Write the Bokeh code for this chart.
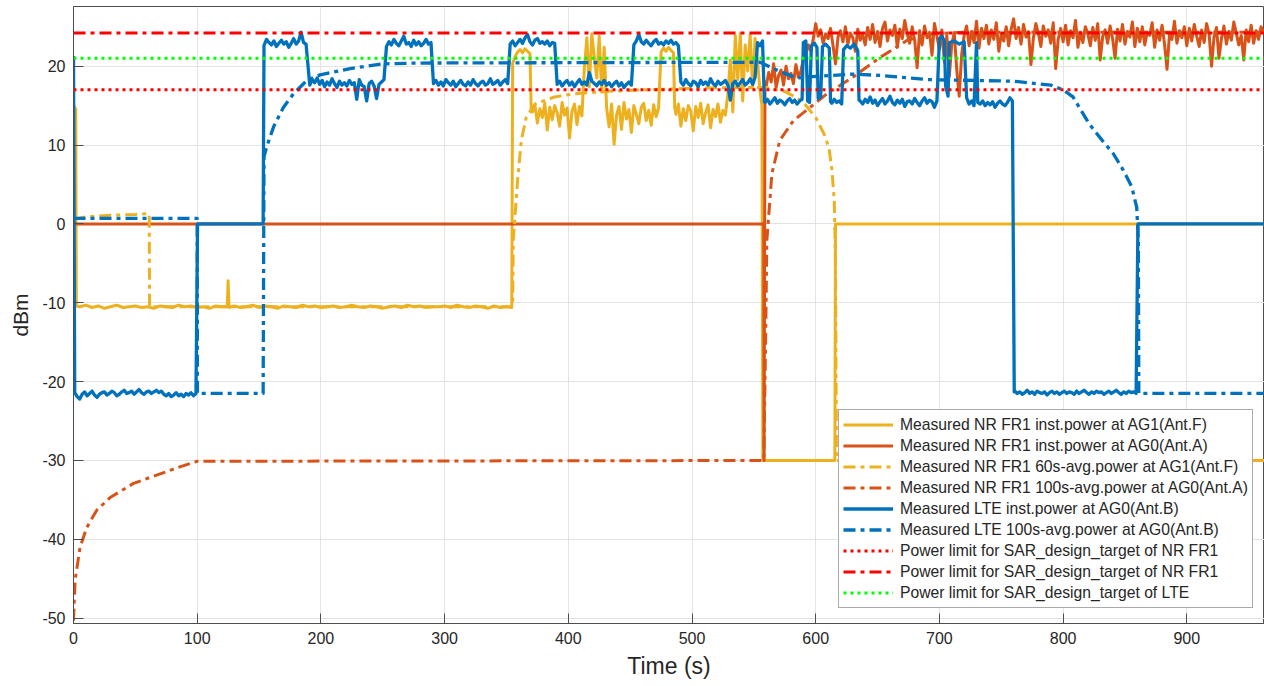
import numpy as np
from bokeh.plotting import figure
from bokeh.models import Range1d, Legend, LegendItem, FixedTicker, PrintfTickFormatter
from bokeh.embed import file_html
from bokeh.resources import INLINE

# ---------------- data ----------------
x_ticks = [0, 100, 200, 300, 400, 500, 600, 700, 800, 900]
y_ticks = [-50, -40, -30, -20, -10, 0, 10, 20]

labels = [
    "Measured NR FR1 inst.power at AG1(Ant.F)",
    "Measured NR FR1 inst.power at AG0(Ant.A)",
    "Measured NR FR1 60s-avg.power at AG1(Ant.F)",
    "Measured NR FR1 100s-avg.power at AG0(Ant.A)",
    "Measured LTE inst.power at AG0(Ant.B)",
    "Measured LTE 100s-avg.power at AG0(Ant.B)",
    "Power limit for SAR_design_target of NR FR1",
    "Power limit for SAR_design_target of NR FR1",
    "Power limit for SAR_design_target of LTE",
]

limit_nr_low = 17.0
limit_nr_high = 24.2
limit_lte = 21.0
t_end = 963


def seg(t0, step, vals):
    return [(t0 + step * i, v) for i, v in enumerate(vals)]


# NR FR1 instantaneous power at AG1 (yellow)
nr_ag1_flat_a = [-10.5, -10.3, -10.6, -10.4, -10.7, -10.5, -10.3, -10.6, -10.5, -10.4, -10.6, -10.5,
                 -10.7, -10.4, -10.5, -10.6, -10.3, -10.5, -10.4, -10.6, -10.5, -10.7, -10.4, -10.5]
nr_ag1_flat_b = [-10.4, -10.6, -10.5, -10.3, -10.6, -10.4, -10.5, -10.7, -10.4, -10.5, -10.6, -10.3,
                 -10.5, -10.4, -10.6, -10.5, -10.4, -10.6, -10.5, -10.3, -10.5, -10.6, -10.4, -10.5,
                 -10.7, -10.5, -10.4, -10.6, -10.3, -10.5, -10.4, -10.6, -10.5, -10.5, -10.4, -10.6,
                 -10.3, -10.5, -10.6, -10.4, -10.5, -10.7, -10.4, -10.6, -10.5]
nr_ag1_b1 = [14.2, 15.1, 12.8, 14.6, 13.5, 15.3, 11.9, 14.8, 13.2, 15.0, 14.1, 12.4, 15.4, 13.8, 14.7,
             10.9, 14.3, 15.2, 12.6, 14.9, 13.7]
nr_ag1_b2 = [19.8, 23.6, 17.4, 24.1, 21.2, 18.5, 23.8, 16.7, 22.4]
nr_ag1_b3 = [14.6, 12.3, 15.2, 10.1, 13.8, 14.9, 12.0, 15.4, 13.3, 14.5, 11.6, 15.0, 13.9, 12.7, 14.8,
             15.3, 13.1, 14.4, 12.5, 15.1, 13.6, 14.7]
nr_ag1_b4 = [21.8, 22.3, 21.9, 22.4, 22.0, 21.7]
nr_ag1_b5 = [13.9, 15.2, 12.4, 14.6, 13.1, 15.0, 14.3, 11.8, 14.9, 13.5, 15.3, 12.7, 14.1, 15.1, 12.2,
             14.5, 13.6, 15.2, 12.9, 14.4, 13.8]
nr_ag1_b6 = [16.5, 20.8, 14.2, 23.9, 18.3, 24.1, 15.6, 22.7, 19.4, 24.0, 17.2, 23.5, 20.6, 16.9]

nr_ag1 = ([(0, 15.0), (1.8, 14.6), (2.3, -10.4)] + seg(5, 5, nr_ag1_flat_a)
          + [(124.3, -10.5), (125, -7.2), (125.7, -10.6)] + seg(130, 5, nr_ag1_flat_b)
          + [(354.3, -10.6), (355, 20.4), (357, 21.2), (359, 21.8), (361, 22.1), (363, 21.7),
             (365, 22.2), (367, 21.9), (369, 21.6), (370, 14.5)]
          + seg(371, 2, nr_ag1_b1) + seg(413, 2, nr_ag1_b2) + seg(431, 2, nr_ag1_b3)
          + seg(475, 2, nr_ag1_b4) + [(486, 14.8)] + seg(487, 2, nr_ag1_b5) + seg(529, 2, nr_ag1_b6)
          + [(556.5, 15.0), (557.3, -30), (615.5, -30), (616, 0), (t_end, 0)])

# NR FR1 instantaneous power at AG0 (orange)
nr_ag0_c1 = [17.5, 19.2, 18.0, 20.3, 17.3, 18.8, 19.5, 17.6, 20.0, 18.4, 19.1, 17.8, 20.2, 18.6, 19.4,
             20.8, 21.5, 22.7, 21.9, 23.4]
nr_ag0_c2 = [25.4, 23.8, 24.6, 22.9, 24.1, 23.5, 24.8, 22.6, 20.3, 23.7,
             24.5, 23.1, 25.0, 22.8, 24.2, 23.6, 21.9, 24.7, 23.3, 24.0,
             22.7, 24.9, 23.4, 25.3, 23.0, 24.4, 22.5, 24.8, 25.6, 23.2,
             24.6, 23.9, 25.2, 22.4, 24.7, 23.5, 25.8, 24.1, 22.9, 25.0,
             23.3, 19.8, 24.5, 22.7, 25.1, 23.6, 24.3, 21.4, 25.4, 23.8,
             22.1, 24.6, 20.5, 23.9, 18.7, 22.8, 24.2, 19.6, 16.2, 21.5,
             23.9, 25.1, 22.6, 24.4, 23.0, 25.7, 22.3, 24.8, 23.5, 25.2,
             22.8, 24.6, 23.4, 25.5, 21.9, 24.1, 23.2, 25.0, 22.6, 24.7,
             26.0, 23.5, 24.9, 22.8, 25.3, 23.7, 24.4, 20.2, 23.6, 25.4,
             24.2, 22.5, 25.1, 23.8, 24.6, 22.9, 25.5, 19.7, 23.4, 24.8,
             23.1, 25.2, 22.7, 24.5, 23.6, 25.8, 22.4, 24.3, 23.0, 25.0,
             24.1, 22.6, 24.9, 23.3, 25.4, 20.8, 23.8, 24.6, 22.9, 25.1,
             23.5, 21.0, 24.7, 23.2, 25.3, 22.8, 24.4, 23.7, 25.6, 22.5,
             24.8, 23.1, 25.0, 22.7, 24.3, 23.9, 25.5, 22.4, 24.6, 23.3,
             25.2, 22.8, 19.6, 24.1, 23.4, 25.7, 22.9, 24.5, 23.6, 25.0,
             22.6, 24.8, 23.2, 25.3, 23.8, 22.5, 24.6, 23.0, 25.4, 24.1,
             20.0, 23.7, 24.9, 21.0, 23.5, 25.1, 22.8, 24.4, 23.3, 25.6,
             24.2, 22.7, 23.9, 20.8, 24.6, 23.1, 25.2, 22.9, 24.5, 23.4,
             25.0, 24.3]
nr_ag0 = ([(0, 0), (558, 0), (558.3, -30), (559, 18.0)] + seg(560, 2, nr_ag0_c1) + seg(600, 2, nr_ag0_c2))

# NR FR1 60s-average at AG1 (yellow dash-dot)
nr_ag1_avg = [(0, 0.6), (10, 0.9), (30, 1.1), (50, 1.2), (61.2, 1.3), (61.5, -10.5), (355, -10.5),
              (355.5, -2.1), (359, 5.5), (362, 10.6), (366, 13.5), (373, 15.2), (389, 16.1), (405, 16.5),
              (430, 16.8), (460, 17.0), (500, 17.2), (530, 17.3), (560, 17.3), (575, 16.8), (589, 15.6),
              (600, 13.5), (608, 11.0), (611, 9.3), (613, 7.0), (615, 3.0), (616, -5.0), (616.8, -30),
              (t_end, -30)]

# NR FR1 100s-average at AG0 (orange dash-dot)
nr_ag0_avg = [(0, -50.3), (1.3, -45.2), (5.3, -41.0), (10.7, -38.5), (18.8, -36.3), (29.6, -34.7),
              (48.5, -32.9), (70, -31.7), (86, -30.8), (100, -30.1), (558, -30), (559.5, -15),
              (560.5, -2.1), (564.6, 6.4), (571, 10.6), (582, 13.1), (595.6, 14.8), (609, 16.5),
              (630, 18.6), (652, 21.1), (674, 23.3), (695, 24.1), (720, 24.3), (t_end, 24.3)]

# LTE instantaneous power (blue)
lte_s1 = [-21.4, -21.9, -22.2, -21.6, -21.3, -21.8, -21.5, -21.2, -21.7, -22.0, -21.6, -21.4, -21.3,
          -21.7, -21.5, -21.2, -21.4, -21.8, -21.6, -21.3, -21.1, -21.5, -21.4, -21.2, -21.6, -21.3,
          -21.0, -21.4, -21.6, -21.3, -21.2, -21.5, -21.3, -21.1, -21.4, -21.2, -21.6, -21.8, -21.5,
          -21.9, -21.7, -21.4, -21.8, -21.6, -21.9, -21.5, -21.7, -21.4, -21.8, -21.5]
lte_s2 = [22.6, 23.4, 23.0, 22.7, 23.2, 22.5, 22.9, 23.3, 22.8, 23.1, 22.4, 22.9, 23.5, 22.8, 23.2,
          24.3, 23.0, 22.8]
lte_s3 = [17.6, 18.3, 17.9, 18.5, 17.7, 18.2, 17.4, 18.0, 17.6, 18.4, 17.8, 17.3, 18.1, 17.6, 17.9,
          17.5, 18.2, 17.7, 17.9, 15.8, 18.3, 17.6, 17.4, 15.6, 17.8, 18.1, 17.5, 15.9, 17.7, 18.0, 18.3]
lte_s4 = [22.5, 23.1, 22.7, 23.4, 22.9, 22.6, 23.2, 23.8, 22.8, 23.0, 22.5, 23.3, 22.7, 23.1, 22.6,
          22.9, 23.4, 22.8, 23.0]
lte_s5 = [17.8, 18.2, 17.6, 18.0, 17.5, 18.3, 17.9, 17.6, 18.1, 17.4, 17.8, 18.2, 17.7, 17.5, 18.0,
          17.6, 18.3, 17.8, 17.5, 17.9, 18.1, 17.6, 17.8, 18.4, 17.7, 17.9, 18.2, 17.6, 18.0, 18.3, 17.8]
lte_s6 = [22.8, 23.2, 22.6, 23.0, 23.4, 22.9, 23.6, 24.0, 23.1, 22.7, 23.3, 23.5, 22.9, 23.1, 22.8,
          23.2, 22.6, 23.0, 22.9]
lte_s7 = [17.7, 18.1, 17.5, 17.9, 18.2, 17.6, 18.0, 17.4, 17.9, 18.3, 17.7, 18.0, 17.6, 19.2, 18.1,
          17.8, 17.5, 18.0, 17.7, 18.2, 17.6, 17.9, 17.4, 17.8, 18.1, 17.5, 17.9, 17.3, 17.7, 18.0, 17.6]
lte_s8 = [22.7, 23.2, 24.0, 23.1, 22.8, 23.3, 22.9, 22.6, 23.1, 23.4, 22.8, 23.0, 22.7, 23.2, 22.9,
          23.3, 22.8, 23.0, 22.6]
lte_s9 = [18.0, 17.6, 18.3, 17.8, 17.5, 18.1, 17.9, 17.4, 18.2, 17.7, 18.0, 17.6, 18.4, 17.8, 17.5,
          18.1, 17.7, 17.9, 18.2, 17.6, 15.7, 17.8, 18.1, 17.5, 17.9, 18.3, 17.6, 17.9, 18.4, 17.7, 18.6]
lte_s10 = [15.4, 15.8, 15.2, 15.6, 16.0, 15.3, 15.7, 15.5, 15.1, 15.6, 15.9, 15.4, 15.7, 15.2, 15.6, 15.8]
lte_s11 = [15.3, 15.8, 15.4, 15.6, 15.2]
lte_s12 = [15.6, 15.2, 15.8, 15.4, 16.1, 15.3, 15.7, 15.0, 15.5, 15.9, 15.2, 15.6, 16.2, 15.4, 15.1,
           15.7, 15.3, 15.8, 14.9, 15.5, 15.6, 15.2, 15.9, 15.4, 15.0, 15.6, 16.0, 15.3, 15.7, 15.5,
           14.8, 15.6]
lte_s13 = [15.2, 15.6, 15.0, 15.4, 15.1, 15.5, 14.8, 15.3, 15.6, 15.2, 15.0, 15.4, 16.0, 15.6]
lte_s14 = [-21.2, -21.5, -21.3, -21.6, -21.4, -21.1, -21.5, -21.3, -21.6, -21.2, -21.4, -21.5, -21.3,
           -21.7, -21.4, -21.2, -21.5, -21.3, -21.6, -21.4, -21.2, -21.5, -21.3, -21.4, -21.6, -21.2,
           -21.5, -21.3, -21.1, -21.4, -21.6, -21.3, -21.5, -21.2, -21.4, -21.3, -21.6, -21.4, -21.2,
           -21.5, -21.3, -21.1, -21.4, -21.6, -21.3, -21.5, -21.2, -21.4, -21.3, -21.5]

lte_inst = ([(0, 21.3)] + seg(1, 2, lte_s1) + [(100.3, 0), (153.3, 0)] + seg(154, 2, lte_s2)
            + seg(191, 2, lte_s3) + seg(253, 2, lte_s4) + seg(291, 2, lte_s5) + seg(353, 2, lte_s6)
            + seg(391, 2, lte_s7) + seg(453, 2, lte_s8) + seg(491, 2, lte_s9)
            + [(553, 23.0), (555, 22.6), (557, 23.2), (558.5, 15.5)] + seg(559, 2, lte_s10)
            + [(590, 23.0), (592, 23.2), (593.5, 15.6), (595, 15.4), (596.5, 22.6), (599, 22.9),
               (601, 22.4), (602, 15.9), (604, 16.1), (605.5, 22.5), (608, 22.8), (611, 22.3),
               (612, 15.5)]
            + seg(613, 2, lte_s11)
            + [(622.5, 22.1), (625, 22.6), (628, 22.3), (631, 22.8), (634, 22.0), (635, 15.7)]
            + seg(636, 2, lte_s12)
            + [(700, 23.5), (702, 23.8), (704, 23.2), (705, 17.5), (707, 16.2), (708, 23.0),
               (712, 23.2), (716, 22.8), (720, 23.1), (722, 16.0), (724, 15.2), (726, 15.6),
               (728, 15.0), (730, 23.0), (731, 15.4)]
            + seg(733, 2, lte_s13) + [(760.5, -21.3)] + seg(761, 2, lte_s14)
            + [(860.5, 0), (t_end, 0)])

# LTE 100s-average (blue dash-dot)
lte_avg = [(0, 0.7), (100, 0.7), (100.2, -21.5), (153.3, -21.5), (154, 8.5), (156, 9.7), (161.7, 12.3),
           (169.8, 14.8), (177.8, 16.5), (188.7, 18.2), (199.4, 18.9), (223.7, 19.7), (250.5, 20.3),
           (277.6, 20.4), (555, 20.5), (570, 19.4), (585, 18.5), (600, 18.7), (630, 19.0), (655, 18.8),
           (690, 18.3), (760, 18.1), (790, 17.6), (800, 17.0), (808, 16.1), (821, 12.7), (827, 11.5),
           (832.6, 10.4), (840.6, 8.9), (848.7, 6.8), (855.5, 4.7), (859.5, 2.1), (860.8, -2.1),
           (861.2, -21.5), (t_end, -21.5)]

# ---------------- figure ----------------
FONT = "Liberation Sans"
TXT = "#262626"
AXC = "#4d4d4d"

p = figure(width=1264, height=686, output_backend="svg", toolbar_location=None,
           x_range=Range1d(0, 962.8), y_range=Range1d(-50.67, 27.57),
           min_border_left=73, min_border_right=0, min_border_top=6, min_border_bottom=63)
p.outline_line_color = AXC
p.outline_line_width = 1
p.background_fill_color = "white"
p.border_fill_color = "white"

for ax, ticks in ((p.below[0], x_ticks), (p.left[0], y_ticks)):
    ax.ticker = FixedTicker(ticks=ticks)
    ax.formatter = PrintfTickFormatter(format="%d")
    ax.major_label_text_font = FONT
    ax.major_label_text_font_size = "16px"
    ax.major_label_text_color = TXT
    ax.major_tick_in = 10
    ax.major_tick_out = 0
    ax.minor_tick_in = 0
    ax.minor_tick_out = 0
    ax.axis_line_color = AXC
    ax.major_tick_line_color = AXC
    ax.axis_label_text_font = FONT
    ax.axis_label_text_font_style = "normal"
    ax.axis_label_text_color = TXT

p.below[0].axis_label = "Time (s)"
p.below[0].axis_label_text_font_size = "23px"
p.below[0].major_label_standoff = 8
p.below[0].axis_label_standoff = 6
p.left[0].axis_label = "dBm"
p.left[0].axis_label_text_font_size = "21px"
p.left[0].major_label_standoff = 8
p.left[0].axis_label_standoff = 7

p.xgrid.ticker = FixedTicker(ticks=x_ticks)
p.ygrid.ticker = FixedTicker(ticks=y_ticks)
p.grid.grid_line_color = "#e3e3e3"
p.grid.grid_line_width = 1

YEL = "#EDB120"
ORA = "#D95319"
BLU = "#0072BD"
DD = "12 5 4 5"


def xy(pts):
    return [a for a, _ in pts], [b for _, b in pts]


series = [
    (nr_ag1, YEL, "solid", 3.0),
    (nr_ag0, ORA, "solid", 3.0),
    (nr_ag1_avg, YEL, DD, 3.0),
    (nr_ag0_avg, ORA, DD, 3.0),
    (lte_inst, BLU, "solid", 3.3),
    (lte_avg, BLU, DD, 3.3),
]
renderers = []
for pts, col, dash, w in series:
    xs, ys = xy(pts)
    r = p.line(xs, ys, line_color=col, line_dash=dash, line_width=w, line_join="round")
    renderers.append(r)

limits = [
    (limit_nr_low, "#FF0000", "3 4"),
    (limit_nr_high, "#FF0000", DD),
    (limit_lte, "#00FF00", "3 4"),
]
for val, col, dash in limits:
    r = p.line([0, t_end], [val, val], line_color=col, line_dash=dash, line_width=3)
    renderers.append(r)

items = [LegendItem(label=lab, renderers=[r]) for lab, r in zip(labels, renderers)]
legend = Legend(items=items, location=(765, 15), orientation="vertical",
                label_text_font=FONT, label_text_font_size="15.7px", label_text_color=TXT,
                glyph_width=50, glyph_height=21, label_height=21, label_standoff=7,
                spacing=0, padding=4, margin=0,
                border_line_color="#555555", border_line_width=1,
                background_fill_color="white", background_fill_alpha=1.0)
p.add_layout(legend, "center")

open("out.html", "w").write(file_html(p, INLINE))
